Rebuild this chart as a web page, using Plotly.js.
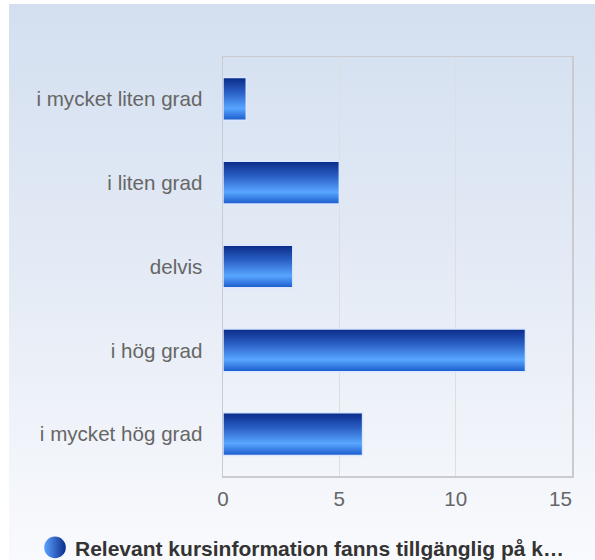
<!DOCTYPE html>
<html>
<head>
<meta charset="utf-8">
<script src="https://cdn.plot.ly/plotly-3.0.1.min.js"></script>
<style>
html,body{margin:0;padding:0;background:#fff;}
#wrap{position:relative;width:595px;height:560px;background:#fff;overflow:hidden;}
#chart{position:absolute;left:9px;top:4px;width:586px;height:556px;
background:linear-gradient(to bottom,#d3dff0 0%,#e3eaf5 45%,#f9fafd 100%);}
</style>
</head>
<body>
<div id="wrap"><div id="chart"></div></div>
<script>
var categories = ["i mycket liten grad", "i liten grad", "delvis", "i hög grad", "i mycket hög grad"];
var values = [1, 5, 3, 13, 6];
var seriesName = "Relevant kursinformation fanns tillgänglig på k…";
var xTicks = [0, 5, 10, 15];
var xTickText = ["0", "5", "10", "15\u00a0\u00a0\u00a0\u00a0"];

var bars = {
  type: "bar",
  orientation: "h",
  x: values,
  y: categories,
  width: 0.51,
  showlegend: false,
  hoverinfo: "x+y",
  marker: {color: "#3477e0", line: {color: "#dbe8ff", width: 1.5}}
};
var legendItem = {
  type: "scatter",
  mode: "markers",
  x: [null],
  y: [null],
  name: seriesName,
  showlegend: true,
  marker: {symbol: "circle", size: 20, color: "#5ea2ff",
           gradient: {type: "horizontal", color: "#0a2d8c"},
           line: {width: 0}}
};
var layout = {
  width: 586,
  height: 556,
  paper_bgcolor: "rgba(0,0,0,0)",
  plot_bgcolor: "rgba(0,0,0,0)",
  margin: {l: 214, r: 23, t: 53, b: 84, pad: 0},
  font: {family: "Arial, 'Liberation Sans', sans-serif", size: 20.6, color: "#666"},
  xaxis: {
    range: [0, 15],
    tickvals: xTicks,
    ticktext: xTickText,
    showgrid: true,
    gridcolor: "#dcdee2",
    gridwidth: 1,
    zeroline: false,
    showline: true,
    linecolor: "#c9cbd0",
    linewidth: 1.5,
    mirror: true,
    ticks: "",
    ticklabelstandoff: 4,
    tickfont: {size: 20.6, color: "#666"},
    fixedrange: true
  },
  yaxis: {
    type: "category",
    categoryorder: "array",
    categoryarray: categories,
    autorange: "reversed",
    showgrid: false,
    zeroline: false,
    showline: true,
    linecolor: "#c9cbd0",
    linewidth: 1.5,
    mirror: true,
    ticks: "",
    ticklabelstandoff: 15,
    tickfont: {size: 20.6, color: "#666"},
    fixedrange: true
  },
  showlegend: true,
  legend: {
    orientation: "h",
    x: 0.5, xanchor: "center",
    xref: "container",
    yref: "container",
    y: 0.022, yanchor: "middle",
    bgcolor: "rgba(0,0,0,0)",
    font: {family: "Arial, 'Liberation Sans', sans-serif", size: 21, color: "#333", weight: "bold"}
  },
  bargap: 0.49
};
Plotly.newPlot("chart", [bars, legendItem], layout, {displayModeBar: false, staticPlot: true}).then(function(gd){
  var svg = gd.querySelector("svg.main-svg");
  var ns = "http://www.w3.org/2000/svg";
  var defs = svg.querySelector("defs") || svg.insertBefore(document.createElementNS(ns, "defs"), svg.firstChild);
  var g = document.createElementNS(ns, "linearGradient");
  g.setAttribute("id", "barGrad");
  g.setAttribute("x1", "0"); g.setAttribute("y1", "0");
  g.setAttribute("x2", "0"); g.setAttribute("y2", "1");
  [["0", "#0a2a88"], ["0.35", "#2a5fc4"], ["0.72", "#58a6ff"], ["1", "#1a5acb"]].forEach(function(s){
    var st = document.createElementNS(ns, "stop");
    st.setAttribute("offset", s[0]);
    st.setAttribute("stop-color", s[1]);
    g.appendChild(st);
  });
  defs.appendChild(g);
  gd.querySelectorAll(".barlayer .bars path").forEach(function(p){
    p.style.fill = "url(#barGrad)";
  });
  gd.querySelectorAll(".legend .legendpoints path.scatterpts").forEach(function(p){
    var t = p.getAttribute("transform") || "";
    p.setAttribute("transform", t + " scale(1.35)");
  });
});
</script>
</body>
</html>
